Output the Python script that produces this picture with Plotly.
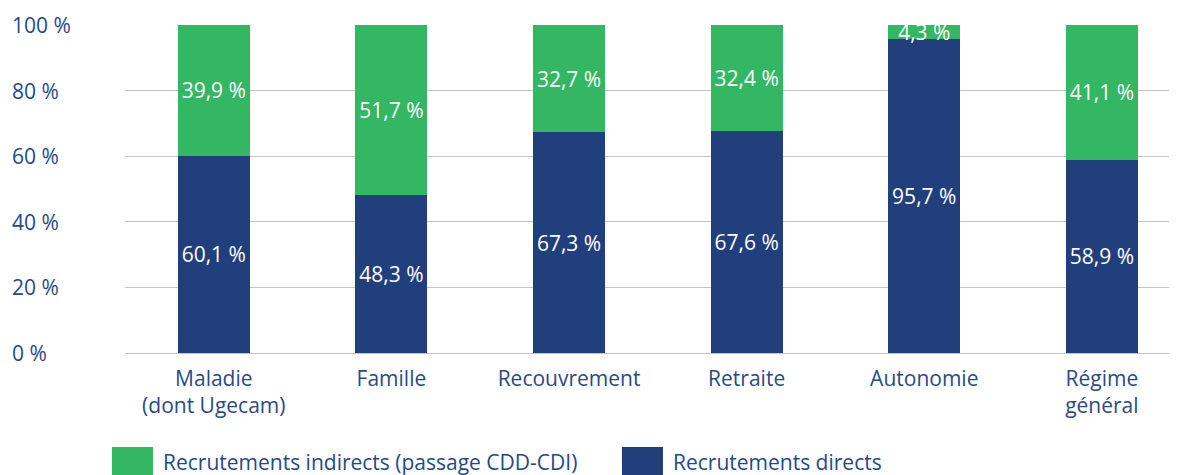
import plotly.graph_objects as go

# branches of the régime général
categories = ["Maladie<br>(dont Ugecam)", "Famille", "Recouvrement", "Retraite", "Autonomie", "Régime<br>général"]
directs = [60.1, 48.3, 67.3, 67.6, 95.7, 58.9]
indirects = [39.9, 51.7, 32.7, 32.4, 4.3, 41.1]
y_ticks = [0, 20, 40, 60, 80, 100]

NAVY = "#213e7d"
GREEN = "#33b762"
TEXT = "#1f4a8a"
FONT = "Open Sans"


def fmt(v):
    return f"{v:.1f}".replace(".", ",") + " %"


fig = go.Figure()
fig.add_trace(go.Bar(
    x=categories, y=directs, name="Recrutements directs",
    marker=dict(color=NAVY, line=dict(width=0)),
    text=[fmt(v) for v in directs], textposition="inside", insidetextanchor="middle",
    textangle=0, textfont=dict(color="white", size=21, family=FONT),
    width=0.405, showlegend=False,
))
fig.add_trace(go.Bar(
    x=categories, y=indirects, name="Recrutements indirects (passage CDD-CDI)",
    marker=dict(color=GREEN, line=dict(width=0)),
    text=[fmt(v) for v in indirects], textposition="inside", insidetextanchor="middle",
    textangle=0, textfont=dict(color="white", size=21, family=FONT),
    width=0.405, showlegend=False,
))

# y tick labels, left aligned at the image edge
for t in y_ticks:
    fig.add_annotation(
        x=-0.1093, xref="paper", y=t, yref="y", text=f"{t} %",
        xanchor="left", yanchor="middle", showarrow=False,
        font=dict(size=21, color=TEXT, family=FONT),
    )

# custom legend with large swatches
legend_items = [
    ("Recrutements indirects (passage CDD-CDI)", GREEN, -0.0124),
    ("Recrutements directs", NAVY, 0.4724),
]
for label, color, x0 in legend_items:
    fig.add_shape(type="rect", xref="paper", yref="paper",
                  x0=x0, x1=x0 + 0.039, y0=-0.4116, y1=-0.2866,
                  fillcolor=color, line=dict(width=0))
    fig.add_annotation(
        x=x0 + 0.0466, xref="paper", y=-0.3323, yref="paper", text=label,
        xanchor="left", yanchor="middle", showarrow=False,
        font=dict(size=21, color=TEXT, family=FONT),
    )

# page body has an 8px margin, so the figure is shrunk by that much
fig.update_layout(
    width=1169, height=467,
    margin=dict(l=117, r=0, t=17, b=122),
    barmode="stack",
    plot_bgcolor="white", paper_bgcolor="white",
    font=dict(family=FONT, color=TEXT),
    uniformtext=dict(minsize=21, mode="show"),
    xaxis=dict(
        range=[-0.5, 5.423], showgrid=False, zeroline=False, showline=False,
        ticks="", ticklabelstandoff=11,
        tickfont=dict(size=21, color="#2b4a86", family=FONT),
    ),
    yaxis=dict(
        range=[0, 100], tickvals=y_ticks, showticklabels=False,
        showgrid=True, gridcolor="#c4c4c4", gridwidth=1.3,
        zeroline=True, zerolinecolor="#c4c4c4", zerolinewidth=1.3,
    ),
)

fig.write_html("out.html")
